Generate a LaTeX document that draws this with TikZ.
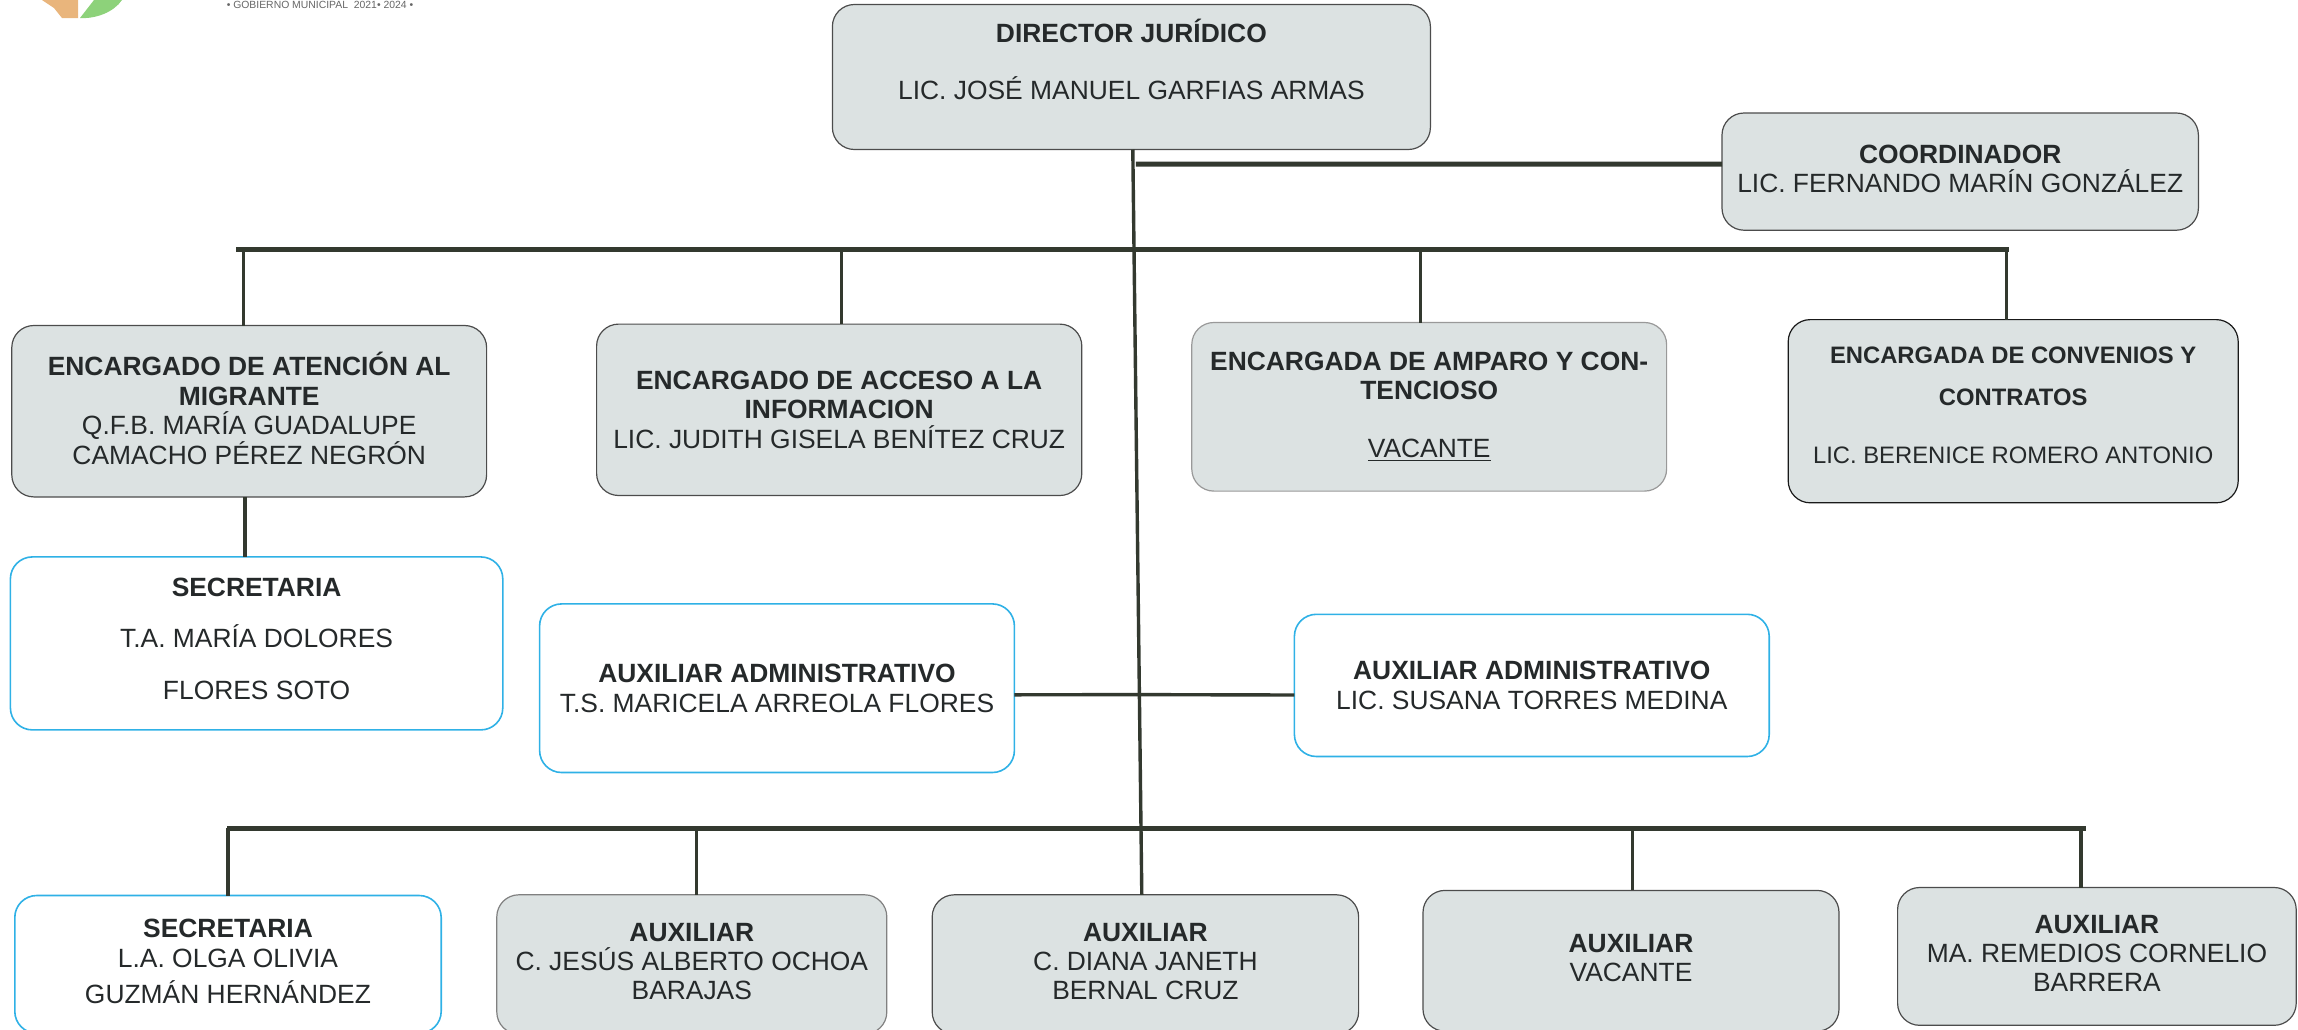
\documentclass[tikz,border=0pt]{standalone}
\usepackage{fontspec}
\setmainfont{Liberation Sans}
\usetikzlibrary{positioning}
\definecolor{boxgray}{HTML}{DCE2E2}
\definecolor{boxblue}{HTML}{2FB1E6}
\definecolor{linedark}{HTML}{33392F}
\definecolor{textdark}{HTML}{25292A}
\definecolor{logoorange}{HTML}{E9B57C}
\definecolor{logogreen}{HTML}{8DD27A}
\tikzset{
	graybox/.style={rectangle, rounded corners=11pt, draw=black!70, line width=0.6pt, fill=boxgray, text=textdark, inner sep=0pt, outer sep=0pt, align=center, font=\fontsize{13.2}{14.7}\selectfont},
	bluebox/.style={graybox, draw=boxblue, line width=0.8pt, fill=white},
	busline/.style={linedark, line width=2.5pt},
	stemline/.style={linedark, line width=1.7pt}
}
\begin{document}
\begin{tikzpicture}[x=1pt, y=1pt]
		\useasboundingbox (0,0) rectangle (1149,-514.5);
		% logo remains
		\fill[logoorange] (21,0) -- (27,-4) -- (31,-9) -- (39,-9) -- (39,0) -- cycle;
		\fill[logogreen] (40,-9) .. controls (48,-9.5) and (57,-6) .. (61,0) -- (47,0) -- cycle;
		\node[text=black!60, font=\fontsize{5.2}{6}\selectfont] (govtext) at (160,-2.5) {\textbullet{} GOBIERNO MUNICIPAL\ \ 2021\textbullet{} 2024 \textbullet};

		% top of the chart
		\node[graybox, minimum width=299pt, minimum height=72.5pt] (director) at (565.7,-38.5) {\textbf{DIRECTOR JURÍDICO}\\[13.9pt]LIC. JOSÉ MANUEL GARFIAS ARMAS\\[3.3pt]~};
		\node[graybox, minimum width=238.2pt, minimum height=58.6pt, right=145.8pt of director, yshift=-47.3pt] (coord) {\textbf{COORDINADOR}\\LIC. FERNANDO MARÍN GONZÁLEZ\\[-11.7pt]~};

		% first row
		\node[graybox, minimum width=237.4pt, minimum height=85.7pt] (migrante) at (124.6,-205.6) {\textbf{ENCARGADO DE ATENCIÓN AL}\\\textbf{MIGRANTE}\\Q.F.B. MARÍA GUADALUPE\\CAMACHO PÉREZ NEGRÓN\\[-11.7pt]~};
		\node[graybox, minimum width=242.6pt, minimum height=85.7pt, right=55pt of migrante, yshift=0.7pt] (acceso) {\textbf{ENCARGADO DE ACCESO A LA}\\\textbf{INFORMACION}\\LIC. JUDITH GISELA BENÍTEZ CRUZ};
		\node[graybox, draw=black!40, minimum width=237.4pt, minimum height=84.3pt, right=55pt of acceso, yshift=1.5pt] (amparo) {\textbf{ENCARGADA DE AMPARO Y CON-}\\\textbf{TENCIOSO}\\[13.9pt]\underline{VACANTE}};
		\node[graybox, draw=black!90, minimum width=225pt, minimum height=91.6pt, right=60.8pt of amparo, yshift=-2.2pt, font=\fontsize{11.9}{14.7}\selectfont] (convenios) {\textbf{ENCARGADA DE CONVENIOS Y}\\[6.5pt]\textbf{CONTRATOS}\\[14.5pt]LIC. BERENICE ROMERO ANTONIO\\[-8.7pt]~};

		% second row
		\node[bluebox, minimum width=246.2pt, minimum height=86.5pt, below=30pt of migrante, xshift=3.7pt] (sectop) {\textbf{SECRETARIA}\\[11pt]T.A. MARÍA DOLORES\\[11pt]FLORES SOTO\\[-9.7pt]~};
		\node[bluebox, minimum width=237.4pt, minimum height=84.3pt, below=54.2pt of acceso, xshift=-31.1pt] (auxleft) {\textbf{AUXILIAR ADMINISTRATIVO}\\T.S. MARICELA ARREOLA FLORES};
		\node[bluebox, minimum width=237.4pt, minimum height=71.1pt, below=61.6pt of amparo, xshift=51.3pt] (auxright) {\textbf{AUXILIAR ADMINISTRATIVO}\\LIC. SUSANA TORRES MEDINA};

		% bottom row
		\node[bluebox, minimum width=213.2pt, minimum height=68.9pt, below=82.8pt of sectop, xshift=-14.3pt] (secbot) {\textbf{SECRETARIA}\\L.A. OLGA OLIVIA\\[3.6pt]GUZMÁN HERNÁNDEZ\\[-11.7pt]~};
		\node[graybox, draw=black!50, minimum width=195pt, minimum height=69.6pt, right=27.8pt of secbot] (auxjesus) {\textbf{AUXILIAR}\\C. JESÚS ALBERTO OCHOA\\BARAJAS\\[-11.7pt]~};
		\node[graybox, minimum width=213.2pt, minimum height=69.6pt, right=22.7pt of auxjesus] (auxdiana) {\textbf{AUXILIAR}\\C. DIANA JANETH\\BERNAL CRUZ\\[-11.7pt]~};
		\node[graybox, minimum width=208pt, minimum height=70.4pt, right=32.2pt of auxdiana, yshift=1.8pt] (auxvacante) {\textbf{AUXILIAR}\\VACANTE\\[-11.7pt]~};
		\node[graybox, minimum width=199.3pt, minimum height=68.9pt, right=29.3pt of auxvacante, yshift=2.2pt] (auxremedios) {\textbf{AUXILIAR}\\MA. REMEDIOS CORNELIO\\BARRERA\\[-11.7pt]~};

		% joints on the lines
		\coordinate (topbusl) at (118,-124.6);
		\coordinate (topbusr) at (1004.7,-124.6);
		\coordinate (botbusl) at (113.6,-414);
		\coordinate (botbusr) at (1042.8,-414);
		\coordinate (coordjoin) at (567.9,-82);
		\coordinate (auxjoin) at (568,-347.3);

		\draw[busline] (topbusl) -- (topbusr);
		\draw[busline] (botbusl) -- (botbusr);
		\draw[stemline] ([xshift=0.7pt]director.south) -- ([xshift=-1.8pt]auxdiana.north);
		\draw[busline] ([yshift=3.7pt]coord.west) -- (coordjoin);
		\draw[stemline] ([xshift=-2.9pt]migrante.north) -- ([xshift=-2.9pt]migrante.north |- topbusl);
		\draw[stemline] ([xshift=1.1pt]acceso.north) -- ([xshift=1.1pt]acceso.north |- topbusl);
		\draw[stemline] ([xshift=-4.4pt]amparo.north) -- ([xshift=-4.4pt]amparo.north |- topbusl);
		\draw[stemline] ([xshift=-3.3pt]convenios.north) -- ([xshift=-3.3pt]convenios.north |- topbusl);
		\draw[stemline] ([xshift=-2.2pt]migrante.south) -- ([xshift=-5.9pt]sectop.north);
		\draw[stemline] ([yshift=-3.3pt]auxleft.east) -- (auxjoin);
		\draw[stemline] ([yshift=-4.8pt]auxright.west) -- (auxjoin);
		\draw[stemline] (secbot.north) -- (secbot.north |- botbusl);
		\draw[stemline] ([xshift=2.2pt]auxjesus.north) -- ([xshift=2.2pt]auxjesus.north |- botbusl);
		\draw[stemline] ([xshift=0.7pt]auxvacante.north) -- ([xshift=0.7pt]auxvacante.north |- botbusl);
		\draw[stemline] ([xshift=-8pt]auxremedios.north) -- ([xshift=-8pt]auxremedios.north |- botbusl);
	\end{tikzpicture}
\end{document}
